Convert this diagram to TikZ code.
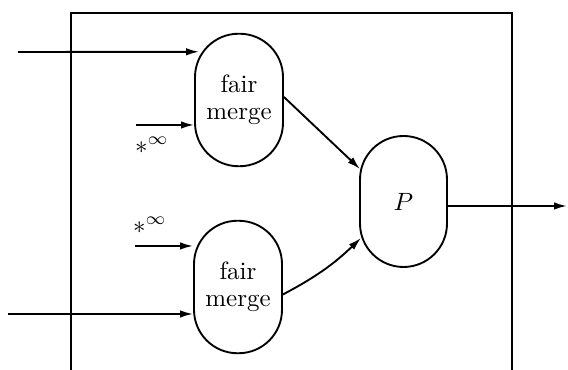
\documentclass[tikz,border=0pt]{standalone}
\usetikzlibrary{arrows.meta,calc}
\begin{document}
\begin{tikzpicture}[x=0.4pt,y=-0.4pt,
  every path/.style={line width=0.75pt},
  blob/.style={draw, line width=0.75pt, rounded corners=17.4pt, minimum width=35.2pt, minimum height=53pt, inner sep=0pt, align=center},
  arr/.style={-{Latex[length=5.2pt,width=3pt]}},
  lbl/.style={inner sep=0pt}]
\useasboundingbox (0,0) rectangle (568,370);
% enclosing box
\draw (71,370) -- (71,13) -- (512,13) -- (512,370);
% nodes
\node[blob] (m1) at (239,100) {\raisebox{6pt}{\begin{tabular}{@{}c@{}}fair\\[-1pt]merge\end{tabular}}};
\node[blob] (m2) at (238,287) {\raisebox{2pt}{\begin{tabular}{@{}c@{}}fair\\[-1pt]merge\end{tabular}}};
\node[blob, minimum width=34.8pt, minimum height=52.4pt] (p) at (403.5,201.5) {$P$};
% free ends
\coordinate (a1) at (18,52);
\coordinate (a2) at (136,125);
\coordinate (a3) at (135,246);
\coordinate (a4) at (8,314);
\coordinate (o) at (567,206);
% labels
\node[lbl] (s1) at (152,145) {$*^{\infty}$};
\node[lbl] (s2) at (150,225) {$*^{\infty}$};
% connectors
\draw[arr] (a1) -- ($(m1.north west)+(5,19)$);
\draw[arr] (a2) -- (a2 -| m1.west);
\draw[arr] (a3) -- (a3 -| m2.west);
\draw[arr] (a4) -- (a4 -| m2.west);
\draw[arr] ($(m1.east)+(0,-3)$) -- ($(p.north west)+(1,34)$);
\draw[arr] ($(m2.east)+(-1,8)$) to[bend right=8] ($(p.south west)+(2,-30)$);
\draw[arr] ($(p.east)+(0,4.5)$) -- (o);
\end{tikzpicture}
\end{document}
